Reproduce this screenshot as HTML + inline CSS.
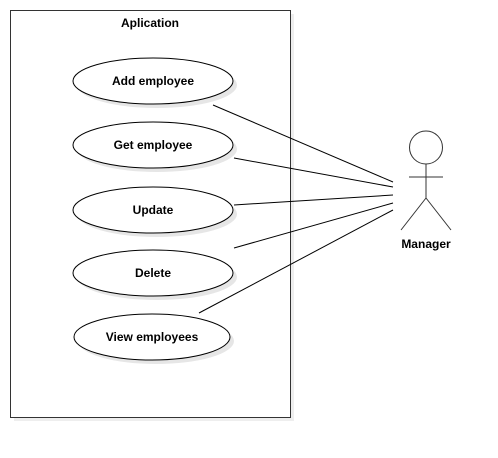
<!DOCTYPE html>
<html><head><style>body{margin:0;background:#fff}svg{display:block}text{font-family:"Liberation Sans",Arial,sans-serif;font-size:12px;font-weight:bold;fill:#000}</style></head>
<body>
<svg width="498" height="458" viewBox="0 0 498 458">
<rect x="14" y="14" width="280" height="407" fill="#eee"/>
<rect x="10.5" y="10.5" width="280" height="407" fill="#fff" stroke="#333" stroke-width="1"/>
<text x="150" y="27" text-anchor="middle">Aplication</text>
<g fill="#e6e6e6">
<ellipse cx="157" cy="85" rx="80" ry="23"/>
<ellipse cx="157" cy="149" rx="80" ry="23"/>
<ellipse cx="157" cy="214" rx="80" ry="23"/>
<ellipse cx="157" cy="277" rx="80" ry="23"/>
<ellipse cx="156" cy="341" rx="78" ry="23"/>
</g>
<g fill="#fff" stroke="#000" stroke-width="1">
<ellipse cx="153" cy="81" rx="80" ry="23"/>
<ellipse cx="153" cy="145" rx="80" ry="23"/>
<ellipse cx="153" cy="210" rx="80" ry="23"/>
<ellipse cx="153" cy="273" rx="80" ry="23"/>
<ellipse cx="152" cy="337" rx="78" ry="23"/>
</g>
<text x="153" y="85" text-anchor="middle">Add employee</text>
<text x="153" y="149" text-anchor="middle">Get employee</text>
<text x="153" y="214" text-anchor="middle">Update</text>
<text x="153" y="277" text-anchor="middle">Delete</text>
<text x="152" y="341" text-anchor="middle">View employees</text>
<g stroke="#000" stroke-width="1" fill="none">
<line x1="213" y1="105" x2="393" y2="182"/>
<line x1="234" y1="158" x2="393" y2="187"/>
<line x1="234" y1="205" x2="393" y2="195"/>
<line x1="234" y1="248" x2="393" y2="203"/>
<line x1="199" y1="313" x2="393" y2="210"/>
</g>
<g stroke="#333" stroke-width="1" fill="#fff">
<circle cx="426" cy="147.5" r="16.5"/>
<line x1="426" y1="164" x2="426" y2="198"/>
<line x1="409" y1="177" x2="443" y2="177"/>
<line x1="426" y1="198" x2="401" y2="230"/>
<line x1="426" y1="198" x2="451" y2="230"/>
</g>
<text x="426" y="248" text-anchor="middle">Manager</text>
</svg>
</body></html>
